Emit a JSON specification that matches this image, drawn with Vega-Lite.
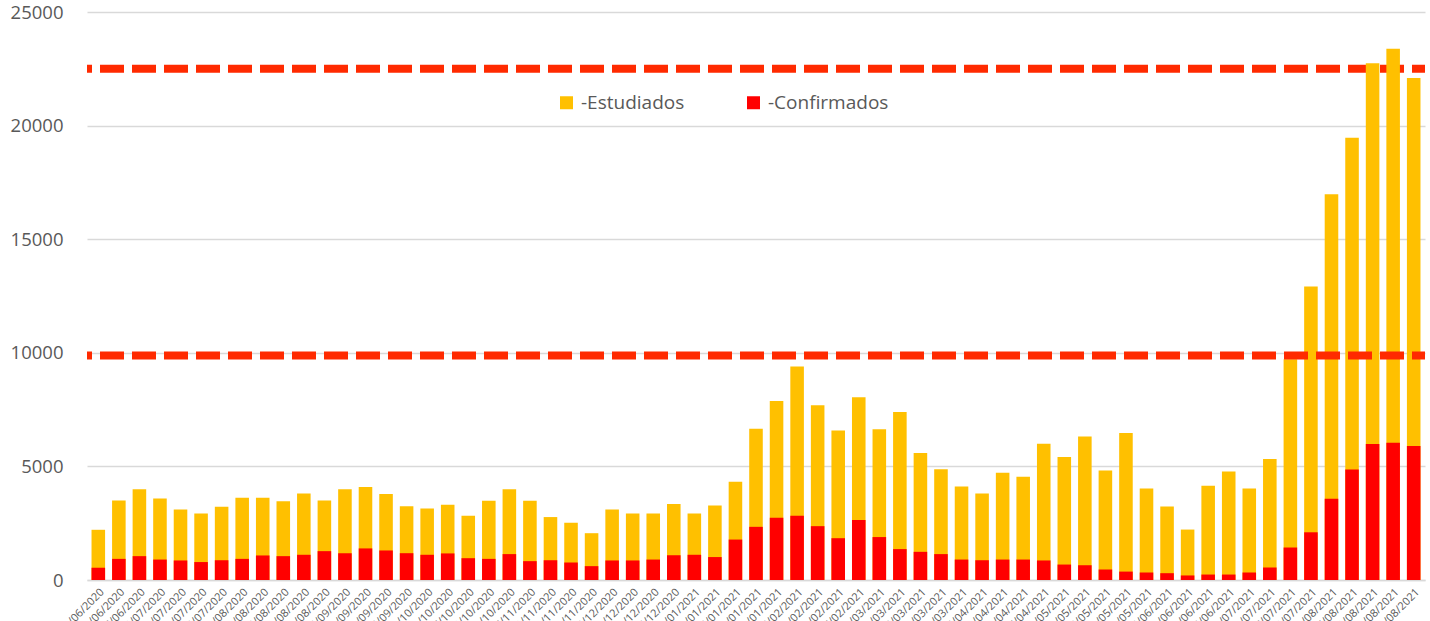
{
  "$schema": "https://vega.github.io/schema/vega-lite/v6.json",
  "width": 1338,
  "height": 568,
  "autosize": {"type": "none"},
  "padding": {"left": 87, "top": 12, "right": 5, "bottom": 41},
  "background": "white",
  "config": {"view": {"stroke": null}, "font": "Open Sans"},
  "datasets": {
    "semanas": [
      {"fecha": "06/06/2020", "Estudiados": null, "Confirmados": null},
      {"fecha": "13/06/2020", "Estudiados": 2210, "Confirmados": 540},
      {"fecha": "20/06/2020", "Estudiados": 3500, "Confirmados": 930},
      {"fecha": "27/06/2020", "Estudiados": 3990, "Confirmados": 1050},
      {"fecha": "04/07/2020", "Estudiados": 3590, "Confirmados": 900},
      {"fecha": "11/07/2020", "Estudiados": 3100, "Confirmados": 860},
      {"fecha": "18/07/2020", "Estudiados": 2930, "Confirmados": 790},
      {"fecha": "25/07/2020", "Estudiados": 3220, "Confirmados": 870},
      {"fecha": "01/08/2020", "Estudiados": 3620, "Confirmados": 930},
      {"fecha": "08/08/2020", "Estudiados": 3620, "Confirmados": 1080},
      {"fecha": "15/08/2020", "Estudiados": 3470, "Confirmados": 1050},
      {"fecha": "22/08/2020", "Estudiados": 3810, "Confirmados": 1110},
      {"fecha": "29/08/2020", "Estudiados": 3500, "Confirmados": 1270},
      {"fecha": "05/09/2020", "Estudiados": 3990, "Confirmados": 1180},
      {"fecha": "12/09/2020", "Estudiados": 4090, "Confirmados": 1390},
      {"fecha": "19/09/2020", "Estudiados": 3780, "Confirmados": 1300},
      {"fecha": "26/09/2020", "Estudiados": 3250, "Confirmados": 1180},
      {"fecha": "03/10/2020", "Estudiados": 3150, "Confirmados": 1110},
      {"fecha": "10/10/2020", "Estudiados": 3310, "Confirmados": 1170},
      {"fecha": "17/10/2020", "Estudiados": 2830, "Confirmados": 960},
      {"fecha": "24/10/2020", "Estudiados": 3490, "Confirmados": 930},
      {"fecha": "31/10/2020", "Estudiados": 3990, "Confirmados": 1140},
      {"fecha": "07/11/2020", "Estudiados": 3490, "Confirmados": 830},
      {"fecha": "14/11/2020", "Estudiados": 2770, "Confirmados": 870},
      {"fecha": "21/11/2020", "Estudiados": 2520, "Confirmados": 770},
      {"fecha": "28/11/2020", "Estudiados": 2060, "Confirmados": 610},
      {"fecha": "05/12/2020", "Estudiados": 3100, "Confirmados": 860},
      {"fecha": "12/12/2020", "Estudiados": 2930, "Confirmados": 860},
      {"fecha": "19/12/2020", "Estudiados": 2930, "Confirmados": 900},
      {"fecha": "26/12/2020", "Estudiados": 3350, "Confirmados": 1090},
      {"fecha": "02/01/2021", "Estudiados": 2930, "Confirmados": 1110},
      {"fecha": "09/01/2021", "Estudiados": 3280, "Confirmados": 1010},
      {"fecha": "16/01/2021", "Estudiados": 4320, "Confirmados": 1780},
      {"fecha": "23/01/2021", "Estudiados": 6660, "Confirmados": 2340},
      {"fecha": "30/01/2021", "Estudiados": 7880, "Confirmados": 2740},
      {"fecha": "06/02/2021", "Estudiados": 9400, "Confirmados": 2830},
      {"fecha": "13/02/2021", "Estudiados": 7690, "Confirmados": 2370},
      {"fecha": "20/02/2021", "Estudiados": 6580, "Confirmados": 1840},
      {"fecha": "27/02/2021", "Estudiados": 8040, "Confirmados": 2640},
      {"fecha": "02/03/2021", "Estudiados": 6630, "Confirmados": 1890},
      {"fecha": "09/03/2021", "Estudiados": 7390, "Confirmados": 1360},
      {"fecha": "16/03/2021", "Estudiados": 5590, "Confirmados": 1240},
      {"fecha": "23/03/2021", "Estudiados": 4870, "Confirmados": 1140},
      {"fecha": "30/03/2021", "Estudiados": 4120, "Confirmados": 900},
      {"fecha": "06/04/2021", "Estudiados": 3810, "Confirmados": 870},
      {"fecha": "13/04/2021", "Estudiados": 4720, "Confirmados": 900},
      {"fecha": "20/04/2021", "Estudiados": 4540, "Confirmados": 900},
      {"fecha": "27/04/2021", "Estudiados": 6000, "Confirmados": 860},
      {"fecha": "01/05/2021", "Estudiados": 5410, "Confirmados": 680},
      {"fecha": "08/05/2021", "Estudiados": 6320, "Confirmados": 650},
      {"fecha": "15/05/2021", "Estudiados": 4820, "Confirmados": 460},
      {"fecha": "22/05/2021", "Estudiados": 6470, "Confirmados": 370},
      {"fecha": "29/05/2021", "Estudiados": 4030, "Confirmados": 330},
      {"fecha": "05/06/2021", "Estudiados": 3240, "Confirmados": 300},
      {"fecha": "12/06/2021", "Estudiados": 2220, "Confirmados": 200},
      {"fecha": "19/06/2021", "Estudiados": 4150, "Confirmados": 240},
      {"fecha": "26/06/2021", "Estudiados": 4780, "Confirmados": 240},
      {"fecha": "03/07/2021", "Estudiados": 4030, "Confirmados": 330},
      {"fecha": "10/07/2021", "Estudiados": 5330, "Confirmados": 550},
      {"fecha": "17/07/2021", "Estudiados": 9720, "Confirmados": 1430},
      {"fecha": "24/07/2021", "Estudiados": 12920, "Confirmados": 2100},
      {"fecha": "01/08/2021", "Estudiados": 16980, "Confirmados": 3580},
      {"fecha": "07/08/2021", "Estudiados": 19470, "Confirmados": 4860},
      {"fecha": "14/08/2021", "Estudiados": 22740, "Confirmados": 5990},
      {"fecha": "21/08/2021", "Estudiados": 23380, "Confirmados": 6040},
      {"fecha": "28/08/2021", "Estudiados": 22100, "Confirmados": 5900}
    ]
  },
  "layer": [
    {
      "data": {"values": [{"limite": 22500}]},
      "mark": {"type": "rule", "color": "#ff2a00", "strokeWidth": 8, "strokeDash": [24, 8], "strokeDashOffset": 11},
      "encoding": {
        "y": {"field": "limite", "type": "quantitative", "title": null}
      }
    },
    {
      "data": {"name": "semanas"},
      "transform": [{"fold": ["Estudiados", "Confirmados"], "as": ["serie", "valor"]}],
      "mark": {"type": "bar"},
      "encoding": {
        "x": {
          "field": "fecha", "type": "ordinal", "sort": null,
          "scale": {"paddingInner": 0.34, "paddingOuter": 0.22},
          "axis": {"title": null, "labelAngle": -45, "labelFontSize": 11, "labelColor": "#595959", "ticks": false, "domainColor": "#d9d9d9", "domainWidth": 1.5, "labelPadding": 6, "grid": false}
        },
        "y": {
          "field": "valor", "type": "quantitative", "stack": null,
          "scale": {"domain": [0, 25000], "nice": false},
          "axis": {"title": null, "values": [0, 5000, 10000, 15000, 20000, 25000], "format": "d", "domain": false, "ticks": false, "labelPadding": 24, "labelFontSize": 18.5, "labelColor": "#595959", "gridColor": "#d9d9d9", "gridWidth": 1.3}
        },
        "color": {
          "field": "serie", "type": "nominal",
          "scale": {"domain": ["Estudiados", "Confirmados"], "range": ["#FFC000", "#FF0000"]},
          "legend": {"title": null, "orient": "none", "legendX": 470, "legendY": 81, "direction": "horizontal", "symbolType": "square", "symbolSize": 169, "symbolStrokeWidth": 0, "labelFontSize": 19, "labelColor": "#595959", "labelExpr": "'-' + datum.label", "labelOffset": 5, "columnPadding": 59, "labelLimit": 300}
        }
      }
    },
    {
      "data": {"values": [{"limite": 9880}]},
      "mark": {"type": "rule", "color": "#ff2a00", "strokeWidth": 8, "strokeDash": [24, 8], "strokeDashOffset": 11},
      "encoding": {
        "y": {"field": "limite", "type": "quantitative", "title": null}
      }
    }
  ]
}
